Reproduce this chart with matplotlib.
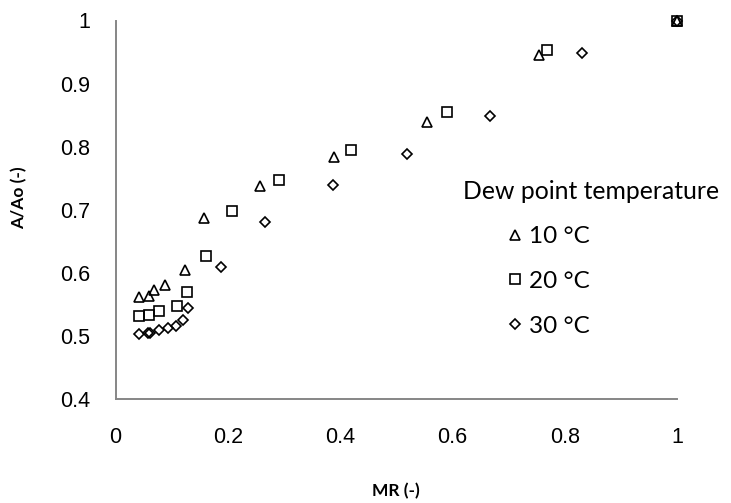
import matplotlib.pyplot as plt

# Relative area A/Ao against moisture ratio MR for three dew point temperatures
mr_10 = [0.042, 0.060, 0.068, 0.088, 0.124, 0.158, 0.258, 0.389, 0.554, 0.754, 1.0]
a_10 = [0.561, 0.564, 0.572, 0.581, 0.605, 0.687, 0.738, 0.783, 0.839, 0.946, 1.0]

mr_20 = [0.041, 0.060, 0.078, 0.110, 0.128, 0.161, 0.2075, 0.292, 0.419, 0.590, 0.768, 1.0]
a_20 = [0.531, 0.533, 0.540, 0.548, 0.569, 0.626, 0.698, 0.747, 0.795, 0.855, 0.953, 1.0]

mr_30 = [0.042, 0.057, 0.061, 0.078, 0.093, 0.107, 0.121, 0.130, 0.187, 0.267, 0.388,
         0.519, 0.667, 0.830, 1.0]
a_30 = [0.503, 0.504, 0.505, 0.509, 0.513, 0.516, 0.526, 0.545, 0.610, 0.681, 0.740,
        0.788, 0.849, 0.949, 1.0]

series_labels = ['10 °C', '20 °C', '30 °C']
x_ticks = [0, 0.2, 0.4, 0.6, 0.8, 1]
x_tick_labels = ['0', '0.2', '0.4', '0.6', '0.8', '1']
y_ticks = [0.4, 0.5, 0.6, 0.7, 0.8, 0.9, 1]
y_tick_labels = ['0.4', '0.5', '0.6', '0.7', '0.8', '0.9', '1']

W, H = 731, 503
fig = plt.figure(figsize=(W / 100, H / 100), dpi=100)
ax = fig.add_axes([115.5 / W, 1 - 399 / H, (677 - 115.5) / W, (399 - 20.5) / H])

common = dict(linestyle='none', markerfacecolor='none', markeredgecolor='black',
              markeredgewidth=1.2, clip_on=False)
ax.plot(mr_10, a_10, marker='^', markersize=7, label=series_labels[0], **common)
ax.plot(mr_20, a_20, marker='s', markersize=6.5, label=series_labels[1], **common)
ax.plot(mr_30, a_30, marker='D', markersize=5, label=series_labels[2], **common)

ax.set_xlim(0, 1)
ax.set_ylim(0.4, 1)
ax.set_xticks(x_ticks)
ax.set_xticklabels(x_tick_labels, fontfamily='Liberation Sans', fontsize=15.5)
ax.set_yticks(y_ticks)
ax.set_yticklabels(y_tick_labels, fontfamily='Liberation Sans', fontsize=15.5)
ax.tick_params(axis='x', length=0, pad=20)
ax.tick_params(axis='y', length=0, pad=18)

for side in ['top', 'right']:
    ax.spines[side].set_visible(False)
for side in ['left', 'bottom']:
    ax.spines[side].set_color('#868686')
    ax.spines[side].set_linewidth(1.4)

ax.set_xlabel('MR (-)', fontfamily='Lato', fontweight='bold', fontsize=12.5)
ax.set_ylabel('A/Ao (-)', fontfamily='Lato', fontweight='bold', fontsize=12.5)
ax.xaxis.set_label_coords(0.5, -(483 - 399) / (399 - 20.5))
ax.yaxis.set_label_coords(-(115.5 - 27) / (677 - 115.5), 1 - (198 - 20.5) / (399 - 20.5))

fig.text(463 / W, 1 - 191 / H, 'Dew point temperature', fontfamily='Lato', fontsize=17.8,
         ha='left', va='center')
ax.legend(loc='upper left', bbox_to_anchor=(508 / W, 1 - 226 / H), bbox_transform=fig.transFigure,
          frameon=False, borderpad=0, borderaxespad=0, handlelength=0.55, handletextpad=0.33,
          labelspacing=0.98, prop={'family': 'Lato', 'size': 17.5})

fig.savefig('out.png', dpi=100)
